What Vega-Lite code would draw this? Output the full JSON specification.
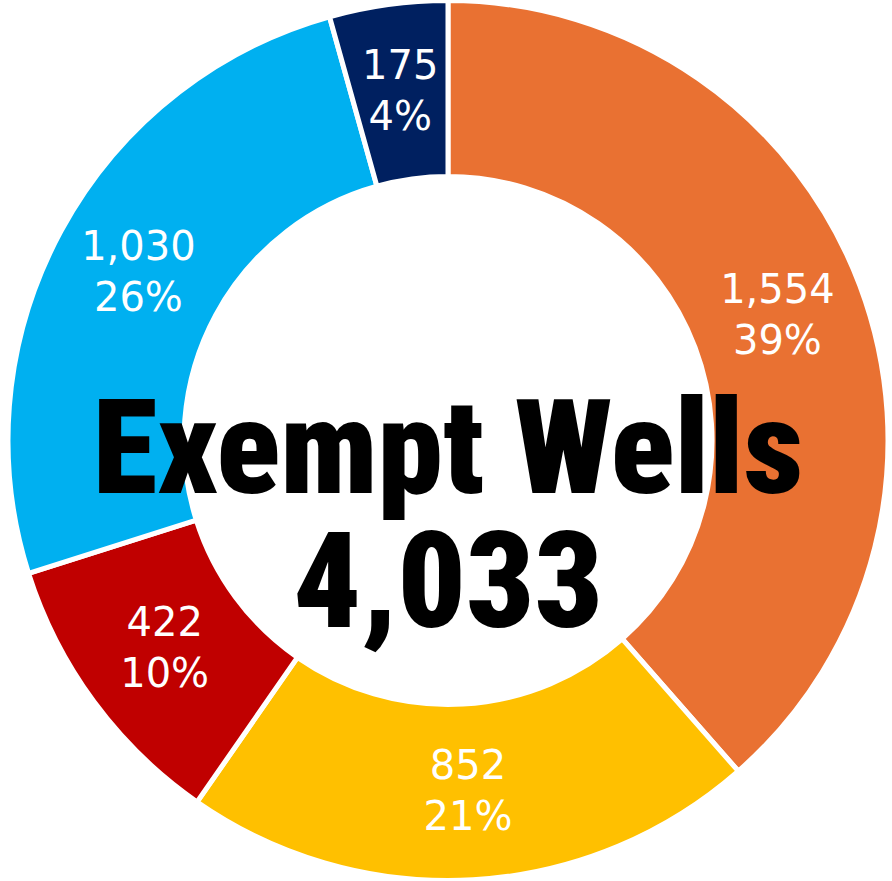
{
  "$schema": "https://vega.github.io/schema/vega-lite/v6.json",
  "width": 892,
  "height": 881,
  "autosize": {"type": "fit", "contains": "padding"},
  "padding": {"left": 4, "top": 0, "right": 0, "bottom": 0},
  "background": "white",
  "view": {"stroke": null},
  "datasets": {
    "wells": [
      {"cat": "A", "ord": 1, "value": 1554, "pct": 0.39},
      {"cat": "B", "ord": 2, "value": 852, "pct": 0.21},
      {"cat": "C", "ord": 3, "value": 422, "pct": 0.10},
      {"cat": "D", "ord": 4, "value": 1030, "pct": 0.26},
      {"cat": "E", "ord": 5, "value": 175, "pct": 0.04}
    ],
    "center": [{"title": "Exempt Wells", "total": 4033}]
  },
  "layer": [
    {
      "data": {"name": "wells"},
      "mark": {"type": "arc", "outerRadius": 440, "innerRadius": 264, "stroke": "white", "strokeWidth": 5},
      "encoding": {
        "theta": {"field": "value", "type": "quantitative", "stack": true},
        "order": {"field": "ord", "type": "quantitative"},
        "color": {
          "field": "cat", "type": "nominal", "legend": null,
          "scale": {"domain": ["A", "B", "C", "D", "E"], "range": ["#E97132", "#FFC000", "#C00000", "#00B0F0", "#002060"]}
        }
      }
    },
    {
      "data": {"name": "wells"},
      "mark": {"type": "text", "radius": 352, "dy": -25, "fontSize": 40, "font": "DejaVu Sans", "color": "white"},
      "encoding": {
        "theta": {"field": "value", "type": "quantitative", "stack": true},
        "order": {"field": "ord", "type": "quantitative"},
        "text": {"field": "value", "type": "quantitative", "format": ","}
      }
    },
    {
      "data": {"name": "wells"},
      "mark": {"type": "text", "radius": 352, "dy": 26, "fontSize": 40, "font": "DejaVu Sans", "color": "white"},
      "encoding": {
        "theta": {"field": "value", "type": "quantitative", "stack": true},
        "order": {"field": "ord", "type": "quantitative"},
        "text": {"field": "pct", "type": "quantitative", "format": ".0%"}
      }
    },
    {
      "data": {"name": "center"},
      "mark": {"type": "text", "baseline": "alphabetic", "dy": 52, "fontSize": 132, "font": "Roboto Condensed", "fontWeight": 900, "color": "black"},
      "encoding": {"text": {"field": "title", "type": "nominal"}}
    },
    {
      "data": {"name": "center"},
      "mark": {"type": "text", "baseline": "alphabetic", "dy": 186, "fontSize": 134, "font": "Roboto Condensed", "fontWeight": 900, "color": "black"},
      "encoding": {"text": {"field": "total", "type": "quantitative", "format": ","}}
    }
  ]
}
